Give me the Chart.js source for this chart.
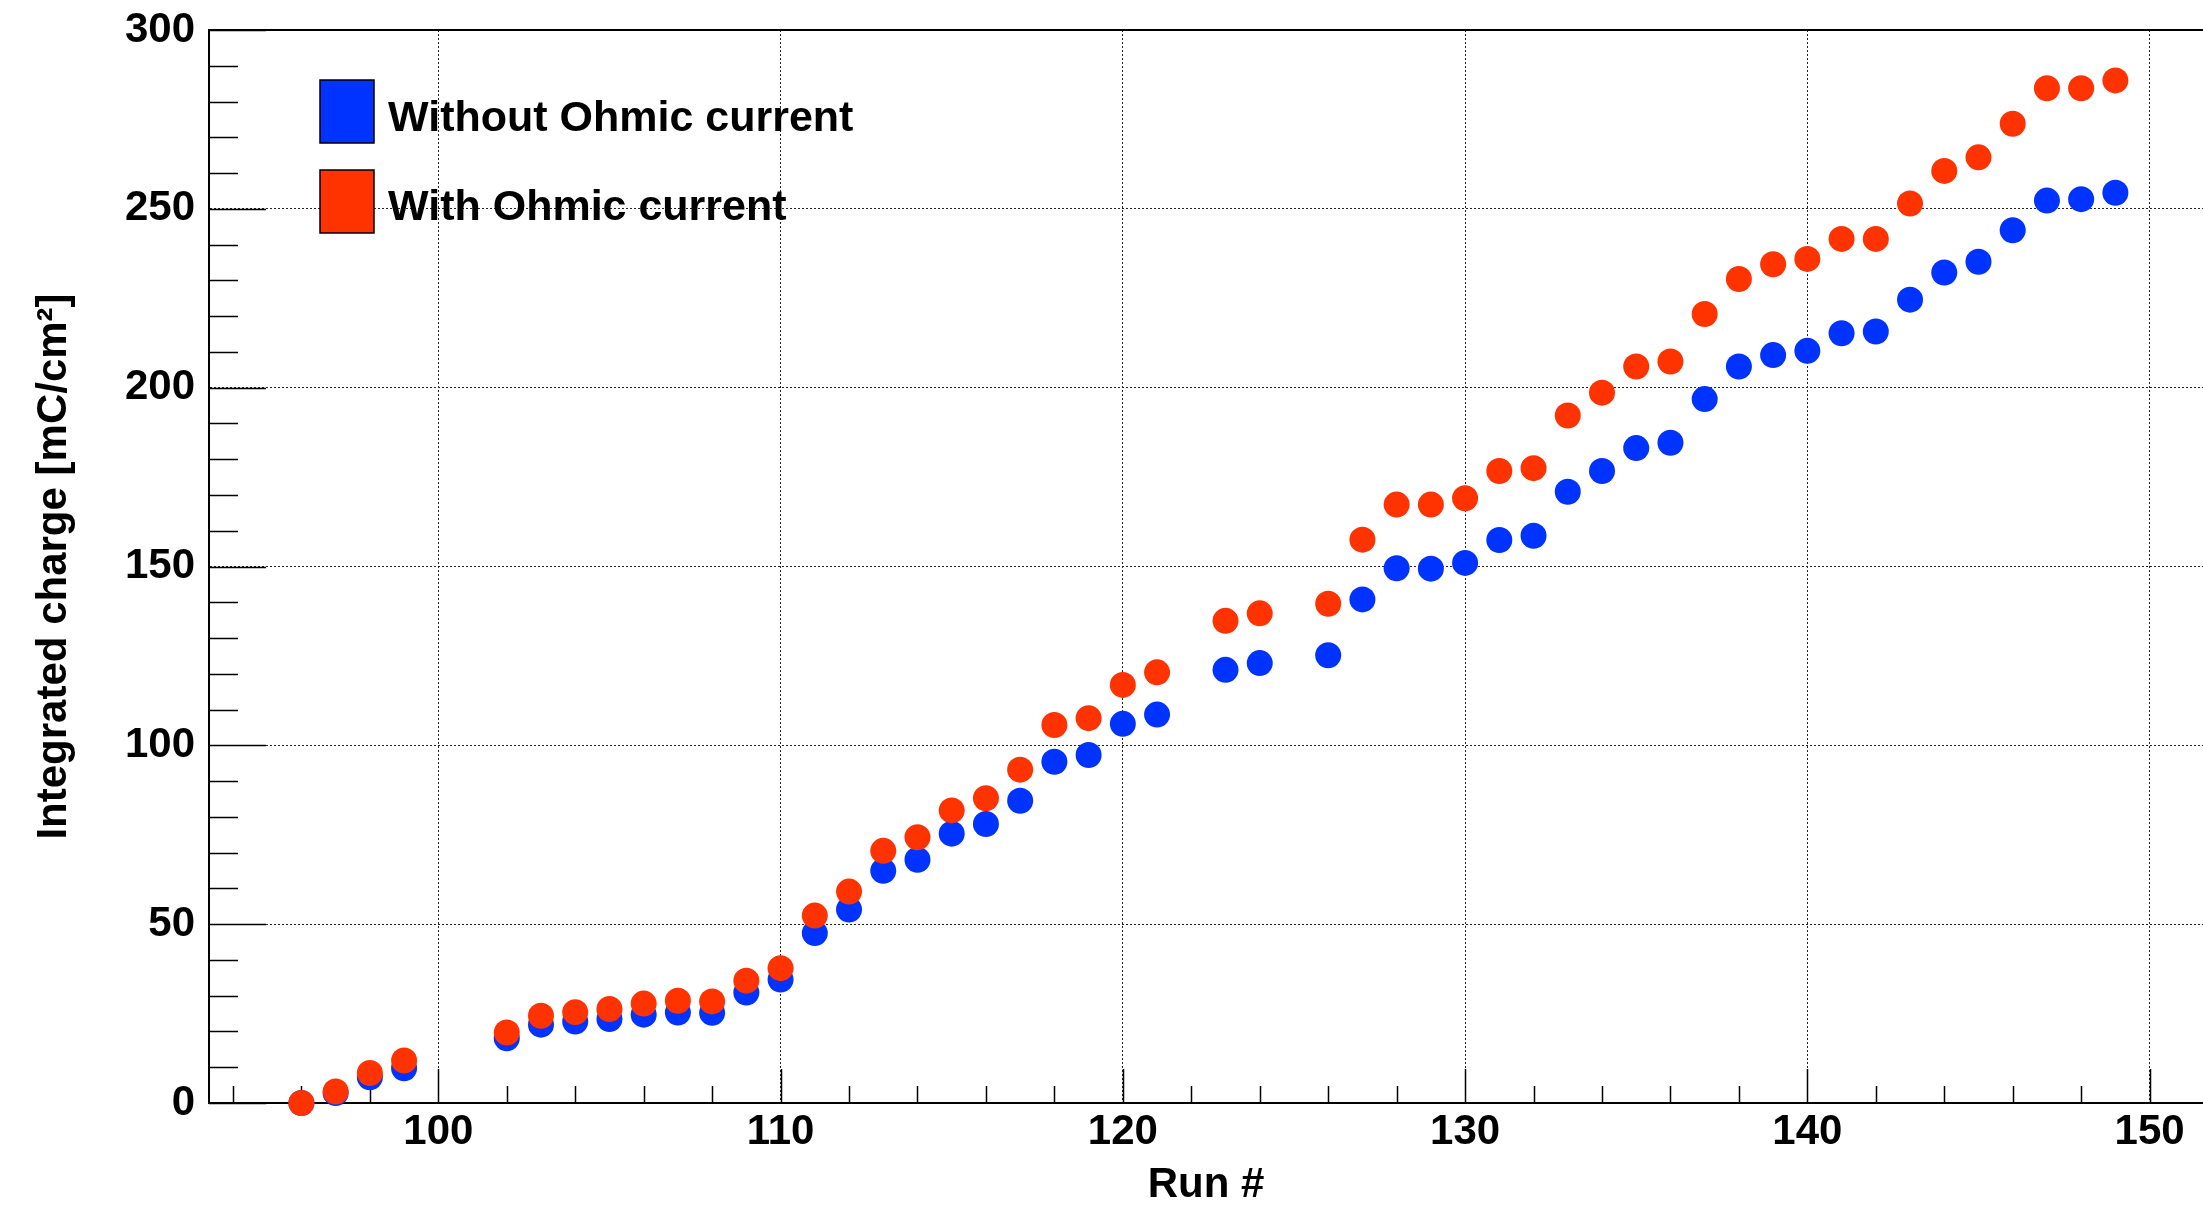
<!DOCTYPE html>
<html>
<head>
<meta charset="utf-8">
<title>Integrated charge per run</title>
<script src="https://cdn.jsdelivr.net/npm/chart.js@4.4.1/dist/chart.umd.min.js"></script>
<style>
  html, body { margin: 0; padding: 0; background: #fff; overflow: hidden; }
  canvas { display: block; }
</style>
</head>
<body>
<canvas id="chargeChart" width="2203" height="1208"></canvas>
<script>
// run numbers on the x axis
var runs = [96, 97, 98, 99, 102, 103, 104, 105, 106, 107, 108, 109, 110,
  111, 112, 113, 114, 115, 116, 117, 118, 119, 120, 121, 123, 124, 126,
  127, 128, 129, 130, 131, 132, 133, 134, 135, 136, 137, 138, 139, 140,
  141, 142, 143, 144, 145, 146, 147, 148, 149];

// integrated charge in mC/cm2
var withoutOhmic = [0, 2.8, 7.2, 9.7, 18.1, 21.9, 22.8, 23.5, 24.7, 25.3, 25.2, 30.9, 34.5,
  47.5, 54.1, 64.9, 68.0, 75.3, 78.0, 84.5, 95.4, 97.3, 106.0, 108.6, 121.1, 123.0, 125.2,
  140.8, 149.5, 149.4, 151.0, 157.4, 158.6, 170.9, 176.7, 183.1, 184.6, 196.8, 205.9, 209.1, 210.3,
  215.2, 215.7, 224.6, 232.2, 235.2, 244.0, 252.3, 252.7, 254.5];

var withOhmic = [0, 3.2, 8.4, 11.9, 19.7, 24.4, 25.4, 26.3, 27.8, 28.6, 28.4, 34.2, 37.7,
  52.4, 59.1, 70.5, 74.3, 81.8, 85.2, 93.2, 105.7, 107.6, 116.9, 120.4, 134.8, 136.9, 139.6,
  157.5, 167.3, 167.3, 169.1, 176.7, 177.5, 192.2, 198.6, 205.9, 207.3, 220.6, 230.4, 234.5, 236.0,
  241.6, 241.6, 251.5, 260.6, 264.4, 273.8, 283.7, 283.7, 285.9];

var seriesNames = ['Without Ohmic current', 'With Ohmic current'];
var seriesColors = ['#0033ff', '#ff3300'];

var xTicks = [100, 110, 120, 130, 140, 150];
var yTicks = [0, 50, 100, 150, 200, 250, 300];
var xMinorStep = 2, yMinorStep = 10;

var FONT = '"Liberation Sans", Arial, Helvetica, sans-serif';

function toPoints(xs, ys) {
  return xs.map(function(x, i) { return {x: x, y: ys[i]}; });
}

// keep the frame where we put it: no extra room for the edge labels
function noLabelPadding(scale) {
  scale.paddingTop = 0;
  scale.paddingBottom = 0;
  scale.paddingLeft = 0;
  scale.paddingRight = 0;
}

// ROOT-style frame: top edge plus inward tick marks
var frameTicks = {
  id: 'frameTicks',
  beforeDatasetsDraw: function(chart) {
    var ctx = chart.ctx, area = chart.chartArea;
    var xs = chart.scales.x, ys = chart.scales.y;
    var v, p, len;
    ctx.save();
    ctx.strokeStyle = '#000';
    ctx.lineWidth = 2;
    ctx.beginPath();
    ctx.moveTo(area.left, area.top);
    ctx.lineTo(area.right, area.top);
    ctx.stroke();

    ctx.lineWidth = 1.5;
    ctx.beginPath();
    for (v = Math.ceil(xs.min / xMinorStep) * xMinorStep; v <= xs.max; v += xMinorStep) {
      p = Math.round(xs.getPixelForValue(v)) + 0.5;
      len = v % 10 === 0 ? 34 : 17;
      ctx.moveTo(p, area.bottom);
      ctx.lineTo(p, area.bottom - len);
    }
    for (v = ys.min; v <= ys.max; v += yMinorStep) {
      p = Math.round(ys.getPixelForValue(v)) + 0.5;
      len = v % 50 === 0 ? 57 : 29;
      ctx.moveTo(area.left, p);
      ctx.lineTo(area.left + len, p);
    }
    ctx.stroke();
    ctx.restore();
  },
  afterDraw: function(chart) {
    // legend boxes with labels, top left inside the frame
    var ctx = chart.ctx;
    var rows = [{top: 80, base: 131}, {top: 170, base: 220}];
    ctx.save();
    ctx.font = 'bold 43px ' + FONT;
    ctx.textBaseline = 'alphabetic';
    ctx.textAlign = 'left';
    rows.forEach(function(r, i) {
      ctx.fillStyle = seriesColors[i];
      ctx.fillRect(320, r.top, 54, 63);
      ctx.strokeStyle = '#000';
      ctx.lineWidth = 1.5;
      ctx.strokeRect(320, r.top, 54, 63);
      ctx.fillStyle = '#000';
      ctx.fillText(seriesNames[i], 388, r.base);
    });
    ctx.restore();
  }
};

Chart.defaults.font.family = FONT;
Chart.defaults.font.weight = 'bold';
Chart.defaults.color = '#000';

var ctx = document.getElementById('chargeChart').getContext('2d');
var chargeChart = new Chart(ctx, {
  type: 'scatter',
  data: {
    datasets: [
      {
        label: seriesNames[0],
        data: toPoints(runs, withoutOhmic),
        backgroundColor: seriesColors[0],
        borderWidth: 0,
        pointRadius: 13,
        pointHoverRadius: 13,
        clip: false,
        order: 1
      },
      {
        label: seriesNames[1],
        data: toPoints(runs, withOhmic),
        backgroundColor: seriesColors[1],
        borderWidth: 0,
        pointRadius: 13,
        pointHoverRadius: 13,
        clip: false,
        order: 0
      }
    ]
  },
  options: {
    responsive: false,
    devicePixelRatio: 1,
    animation: false,
    layout: {
      autoPadding: false,
      padding: { top: 30, right: 0, left: 0, bottom: 0 }
    },
    plugins: {
      legend: { display: false },
      tooltip: { enabled: false }
    },
    scales: {
      x: {
        type: 'linear',
        min: 93.3,
        max: 151.56,
        afterBuildTicks: function(scale) {
          scale.ticks = xTicks.map(function(v) { return {value: v}; });
        },
        afterFit: function(scale) {
          scale.height = 105;
          noLabelPadding(scale);
        },
        grid: { color: '#222', lineWidth: 1, drawTicks: false },
        border: { display: true, color: '#000', width: 2, dash: [2, 2] },
        ticks: {
          font: { size: 42, weight: 'bold' },
          padding: 4,
          maxRotation: 0,
          autoSkip: false
        },
        title: {
          display: true,
          text: 'Run #',
          font: { size: 42, weight: 'bold', lineHeight: 1 },
          padding: { top: 0, bottom: 2 }
        }
      },
      y: {
        type: 'linear',
        min: 0,
        max: 300,
        afterBuildTicks: function(scale) {
          scale.ticks = yTicks.map(function(v) { return {value: v}; });
        },
        afterFit: function(scale) {
          scale.width = 209;
          noLabelPadding(scale);
        },
        grid: { color: '#222', lineWidth: 1, drawTicks: false },
        border: { display: true, color: '#000', width: 2, dash: [2, 2] },
        ticks: {
          font: { size: 42, weight: 'bold' },
          padding: 14,
          autoSkip: false
        },
        title: {
          display: true,
          text: 'Integrated charge [mC/cm²]',
          font: { size: 42, weight: 'bold' },
          padding: { top: 29, bottom: 0 }
        }
      }
    }
  },
  plugins: [frameTicks]
});
</script>
</body>
</html>
